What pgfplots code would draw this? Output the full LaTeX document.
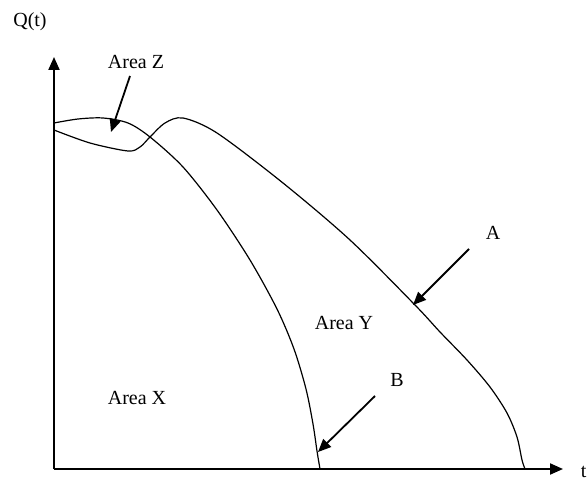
\documentclass[border=0pt]{standalone}
\usepackage{fontspec}
\setmainfont{Liberation Serif}
\usepackage{pgfplots}
\pgfplotsset{compat=1.18}
\usetikzlibrary{arrows.meta}

\begin{document}
\fontsize{20}{24}\selectfont
\begin{tikzpicture}[>={Triangle[length=13pt,width=11pt]}]
    \useasboundingbox (-54pt,-8pt) rectangle (534pt,469pt);
    \begin{axis}[
            at={(0pt,0pt)}, anchor=south west,
            scale only axis,
            width=509pt, height=412pt,
            xmin=0, xmax=509,
            ymin=0, ymax=412,
            axis lines=none,
            clip=false,
        ]

        % curve A
        \addplot[black, line width=1.2pt, smooth, tension=0.5] coordinates {
                (0,339) (36,326) (74,318) (86,322) (96,332) (111,346) (129,351)
                (163,336) (229,286) (296,229) (361,164) (386,137) (413,109)
                (436,82) (453,56) (463,32) (468,9) (471,0)
            };

        % curve B
        \addplot[black, line width=1.2pt, smooth, tension=0.5] coordinates {
                (0,346) (24,350) (49,351) (74,346) (96,332) (129,302) (163,259)
                (196,209) (223,160) (240,120) (252,80) (259,45) (263,18)
                (266,0)
            };

        % axes
        \draw[->, line width=2pt] (axis cs:0,0) -- (axis cs:509,0);
        \draw[->, line width=2pt] (axis cs:0,0) -- (axis cs:0,412);
        \node at (axis cs:-24,447) {Q(t)};
        \node[anchor=west] at (axis cs:520,-3) {t};

        % labels and pointers
        \node at (axis cs:82,407) {Area Z};
        \draw[->, line width=1.8pt] (axis cs:76,393) -- (axis cs:57,337);
        \node at (axis cs:290,146) {Area Y};
        \node at (axis cs:83,71) {Area X};
        \node at (axis cs:439,236) {A};
        \draw[->, line width=1.8pt] (axis cs:415,220) -- (axis cs:359,164);
        \node at (axis cs:343,89) {B};
        \draw[->, line width=1.8pt] (axis cs:321,73) -- (axis cs:264,17);
    \end{axis}
\end{tikzpicture}
\end{document}
